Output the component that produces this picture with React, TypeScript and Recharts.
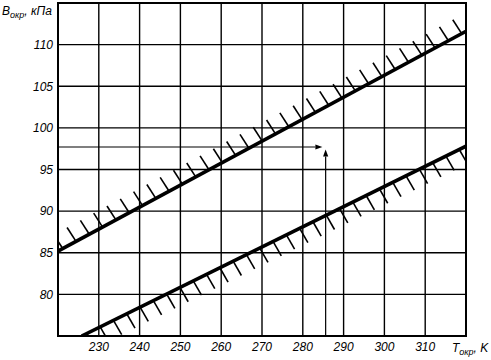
import React from 'react';
import { LineChart, Line, XAxis, YAxis, CartesianGrid, ReferenceLine, ReferenceArea, Label } from 'recharts';

// Axis domains and tick labels
const xDomain: [number, number] = [220, 320];
const yDomain: [number, number] = [75, 115];
const xTicks = [230, 240, 250, 260, 270, 280, 290, 300, 310];
const yTicks = [80, 85, 90, 95, 100, 105, 110];

// Boundary lines (T, B)
const upperLine = [
  { t: 220, b: 85.2 },
  { t: 320, b: 111.6 },
];
const lowerLine = [
  { t: 225.8, b: 75 },
  { t: 320, b: 97.8 },
];

// Reading example arrows
const readT = 285.6;
const readB = 97.7;
const hArrowTipT = 284.8;
const vArrowTipB = 97.4;

const font = 'Liberation Sans, Arial, sans-serif';

const makeHatch = (dir: [number, number], offset: number, len: number) => (p: any) => {
  const { x1, y1, x2, y2 } = p;
  const spacing = 13.3;
  const items: React.ReactNode[] = [];
  const n = Math.hypot(dir[0], dir[1]);
  const ux = dir[0] / n;
  const uy = dir[1] / n;
  let i = 0;
  for (let x = x1 + offset; x < x2 - 1; x += spacing) {
    const t = (x - x1) / (x2 - x1);
    const y = y1 + t * (y2 - y1);
    items.push(
      <line key={i++} x1={x} y1={y} x2={x + ux * len} y2={y + uy * len} stroke="#000" strokeWidth={1.6} />
    );
  }
  return <g clipPath={p.clipPath}>{items}</g>;
};

const arrowShape = (p: any) => {
  const { x1, y1, x2, y2 } = p;
  const dx = x2 - x1;
  const dy = y2 - y1;
  const L = Math.hypot(dx, dy) || 1;
  const ux = dx / L;
  const uy = dy / L;
  const hl = 7;
  const hw = 2.6;
  const bx = x2 - ux * hl;
  const by = y2 - uy * hl;
  const pts = `${x2},${y2} ${bx - uy * hw},${by + ux * hw} ${bx + uy * hw},${by - ux * hw}`;
  return (
    <g>
      <line x1={x1} y1={y1} x2={bx} y2={by} stroke="#000" strokeWidth={1.2} />
      <polygon points={pts} fill="#000" />
    </g>
  );
};

const tickStyle = { fill: '#000', fontSize: 12, fontStyle: 'italic', fontFamily: font };

export default function App() {
  return (
    <div style={{ position: 'absolute', left: 0, top: 0, width: 491, height: 360, background: '#fff' }}>
      <LineChart
        width={491}
        height={360}
        margin={{ top: 3, right: 25, left: 0, bottom: 0 }}
        style={{ fontFamily: font }}
      >
        <CartesianGrid stroke="#000" strokeWidth={1.4} />
        <XAxis
          type="number"
          dataKey="t"
          domain={xDomain}
          ticks={xTicks}
          allowDataOverflow
          axisLine={false}
          tickLine={false}
          tickSize={0}
          tickMargin={6}
          height={24}
          tick={tickStyle}
          interval={0}
        >
          <Label
            content={(props: any) => {
              const vb = props.viewBox || { x: 58, y: 336, width: 408 };
              return (
                <text x={vb.x + vb.width - 14} y={vb.y + 15.5} fontSize={12} fontStyle="italic" fill="#000" fontFamily={font}>
                  <tspan>T</tspan>
                  <tspan fontSize={9} dy={3}>окр</tspan>
                  <tspan dy={-3}>, K</tspan>
                </text>
              );
            }}
          />
        </XAxis>
        <YAxis
          type="number"
          domain={yDomain}
          ticks={yTicks}
          allowDataOverflow
          axisLine={false}
          tickLine={false}
          tickSize={0}
          tickMargin={5}
          width={58}
          tick={tickStyle}
          interval={0}
        >
          <Label
            content={(props: any) => {
              const vb = props.viewBox || { x: 0, y: 3 };
              return (
                <text x={vb.x + 2} y={vb.y + 12} fontSize={12} fontStyle="italic" fill="#000" fontFamily={font}>
                  <tspan>B</tspan>
                  <tspan fontSize={9} dy={3}>окр</tspan>
                  <tspan dy={-3}>, кПа</tspan>
                </text>
              );
            }}
          />
        </YAxis>
        <ReferenceArea
          x1={xDomain[0]}
          x2={xDomain[1]}
          y1={yDomain[0]}
          y2={yDomain[1]}
          fill="none"
          fillOpacity={0}
          stroke="#000"
          strokeWidth={2}
          ifOverflow="extendDomain"
        />
        <ReferenceLine
          segment={[{ x: upperLine[0].t, y: upperLine[0].b }, { x: upperLine[1].t, y: upperLine[1].b }]}
          ifOverflow="hidden"
          shape={makeHatch([-0.54, -0.84], 4.7, 16.5)}
        />
        <ReferenceLine
          segment={[{ x: lowerLine[0].t, y: lowerLine[0].b }, { x: lowerLine[1].t, y: lowerLine[1].b }]}
          ifOverflow="hidden"
          shape={makeHatch([0.5, 0.87], 5.2, 16.5)}
        />
        <ReferenceLine
          segment={[{ x: xDomain[0], y: readB }, { x: hArrowTipT, y: readB }]}
          ifOverflow="visible"
          shape={arrowShape}
        />
        <ReferenceLine
          segment={[{ x: readT, y: yDomain[0] }, { x: readT, y: vArrowTipB }]}
          ifOverflow="visible"
          shape={arrowShape}
        />
        <Line data={upperLine} dataKey="b" stroke="#000" strokeWidth={3.6} dot={false} isAnimationActive={false} />
        <Line data={lowerLine} dataKey="b" stroke="#000" strokeWidth={3.6} dot={false} isAnimationActive={false} />
      </LineChart>
    </div>
  );
}
